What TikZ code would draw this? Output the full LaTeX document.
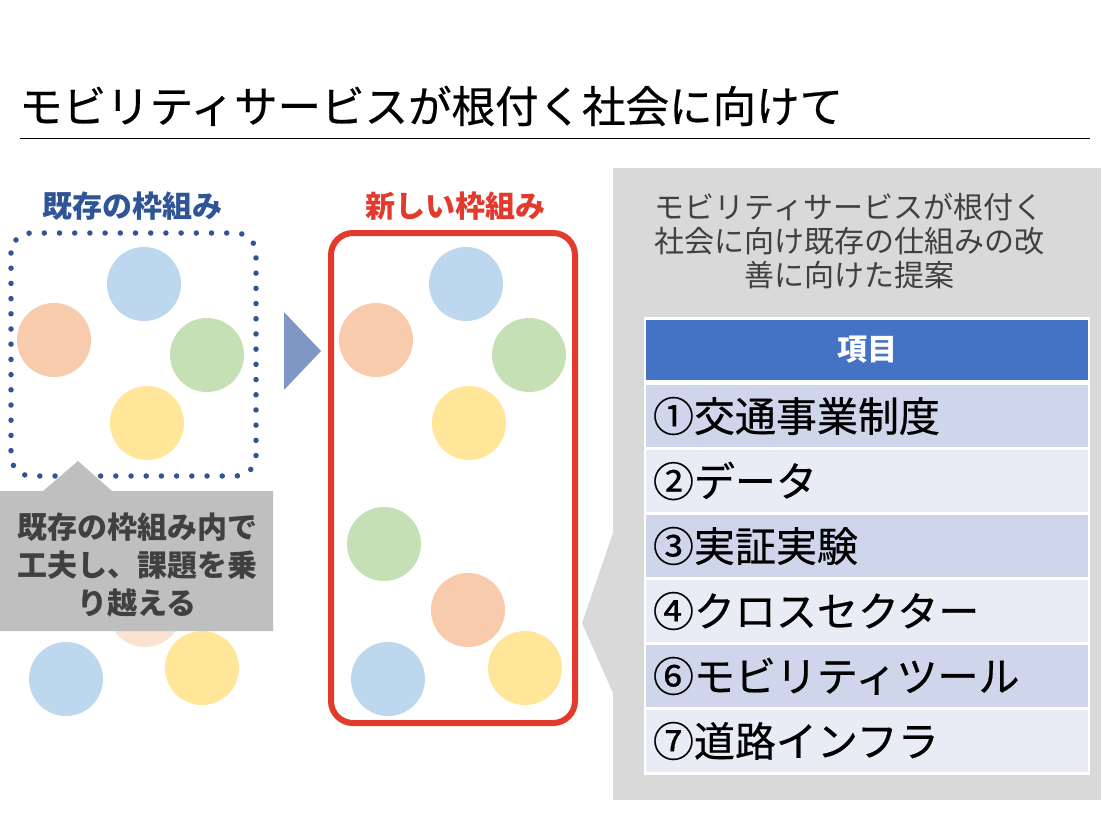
\documentclass[tikz,border=0pt]{standalone}
\usepackage{fontspec}
\setmainfont{Noto Sans CJK JP}
\newfontfamily\heavyfont{Noto Sans CJK JP}[FakeBold=0.5]
\usetikzlibrary{positioning}
\definecolor{cblue}{RGB}{189,215,238}
\definecolor{corange}{RGB}{248,203,173}
\definecolor{cgreen}{RGB}{197,224,180}
\definecolor{cyellow}{RGB}{255,230,153}
\definecolor{oldblue}{RGB}{47,85,151}
\definecolor{newred}{RGB}{226,59,45}
\definecolor{arrowblue}{RGB}{127,151,196}
\definecolor{calloutgray}{RGB}{191,191,191}
\definecolor{panelgray}{RGB}{217,217,217}
\definecolor{textgray}{RGB}{64,64,64}
\definecolor{headblue}{RGB}{68,114,196}
\definecolor{rowdark}{RGB}{207,213,234}
\definecolor{rowlight}{RGB}{233,235,245}
\newcommand{\bigtxt}{\heavyfont\fontsize{41}{48}\selectfont}
\newcommand{\midtxt}{\fontsize{30}{34}\selectfont}
\tikzset{
  blob/.style     = {circle, minimum size=74pt, inner sep=0pt},
  head/.style     = {font=\midtxt\bfseries, inner sep=0pt},
  oldframe/.style = {draw=oldblue, line width=5.5pt, line cap=round,
                     dash pattern=on 0pt off 15.2pt, rounded corners=20pt},
  newframe/.style = {draw=newred, line width=6pt, rounded corners=22pt},
  rowbox/.style   = {draw=white, line width=2.5pt, minimum width=444pt,
                     minimum height=65pt, inner sep=0pt},
  rowtext/.style  = {font=\bigtxt, anchor=west, inner sep=0pt},
}
\begin{document}
\begin{tikzpicture}[x=1pt,y=-1pt]
  \useasboundingbox[fill=white] (0,0) rectangle (1113,833);
  % title
  \node[rowtext, font=\heavyfont\fontsize{43.5}{50}\selectfont] (title) at (19,106)
    {モビリティサービスが根付く社会に向けて};
  \coordinate (rulel) at (20,138);
  \coordinate (ruler) at (1090,138);
  \draw[line width=1pt] (rulel) -- (ruler);

  % existing framework
  \node[head, text=oldblue] (oldhead) at (132,206) {既存の枠組み};
  \node[blob, fill=cblue]   (o1) at (144,284) {};
  \node[blob, fill=corange] (o2) at (54,340) {};
  \node[blob, fill=cgreen]  (o3) at (207,355) {};
  \node[blob, fill=cyellow] (o4) at (147,423) {};
  \draw[oldframe] (11,233) rectangle (256,476);
  \node[blob, fill=corange, opacity=0.55] (o5) at (145,610) {};
  \node[blob, fill=cblue]   (o6) at (66,679) {};
  \node[blob, fill=cyellow] (o7) at (202,668) {};
  \fill[calloutgray] (0,491) -- (43,491) -- (78,461) -- (112,491) -- (273,491)
    -- (273,631) -- (0,631) -- cycle;
  \node[font=\fontsize{30}{38}\selectfont\bfseries, text=textgray, align=center,
    inner sep=0pt] (oldnote) at (137,565) {既存の枠組み内で\\工夫し、課題を乗\\り越える};

  % arrow
  \fill[arrowblue] (284,312) -- (321,351) -- (284,390) -- cycle;

  % new framework
  \node[head, text=newred] (newhead) at (455,206) {新しい枠組み};
  \node[blob, fill=cblue]   (n1) at (466,284) {};
  \node[blob, fill=corange] (n2) at (376,340) {};
  \node[blob, fill=cgreen]  (n3) at (529,355) {};
  \node[blob, fill=cyellow] (n4) at (469,423) {};
  \node[blob, fill=cgreen]  (n5) at (384,544) {};
  \node[blob, fill=corange] (n6) at (468,610) {};
  \node[blob, fill=cblue]   (n7) at (388,679) {};
  \node[blob, fill=cyellow] (n8) at (525,668) {};
  \draw[newframe] (331,233) rectangle (575,723);

  % proposal panel
  \fill[panelgray] (613,168) rectangle (1101,800);
  \fill[panelgray] (613,533) -- (582,623) -- (613,693) -- cycle;
  \node[font=\midtxt, text=textgray, align=center, inner sep=0pt] (panelhead)
    at (849,241) {モビリティサービスが根付く\\社会に向け既存の仕組みの改\\善に向けた提案};

  % table
  \node[rowbox, fill=headblue, minimum height=63pt] (hd) at (867,350)
    {\textcolor{white}{\midtxt\bfseries 項目}};
  \foreach \i/\lbl/\col in {0/①交通事業制度/rowdark, 1/②データ/rowlight,
      2/③実証実験/rowdark, 3/④クロスセクター/rowlight,
      4/⑥モビリティツール/rowdark, 5/⑦道路インフラ/rowlight} {
    \node[rowbox, fill=\col] (r\i) at (867,416+65*\i) {};
    \node[rowtext] (t\i) at ([xshift=9pt]r\i.west) {\lbl};
  }
\end{tikzpicture}
\end{document}
